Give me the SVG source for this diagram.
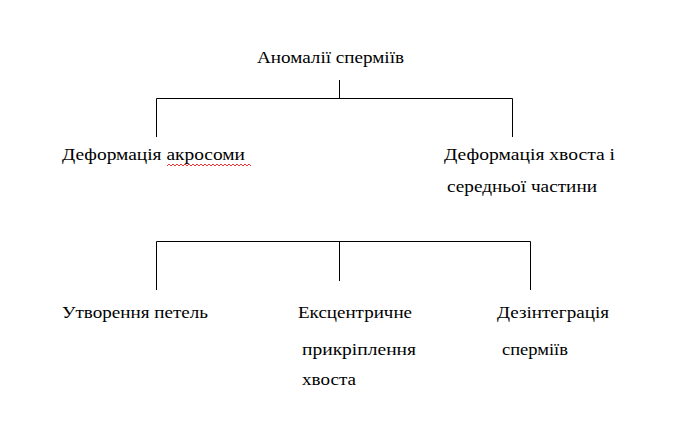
<svg xmlns="http://www.w3.org/2000/svg" width="675" height="421" viewBox="0 0 675 421">
<style>
text{font-family:"Liberation Serif","Times New Roman",serif;font-size:17.5px;fill:#000}
.c{stroke:#000;stroke-width:1;fill:none}
</style>
<rect width="675" height="421" fill="#fff"/>
<g id="connectors">
<path class="c" d="M339.5 80V98.5M156.5 137V98.5H512.5V137"/>
<path class="c" d="M156.5 290V241.5H530.5V290M339.5 241.5V281"/>
</g>
<g id="root"><text x="257" y="63" textLength="147" lengthAdjust="spacingAndGlyphs">Аномалії сперміїв</text></g>
<g id="n-acrosome"><text x="62" y="160" textLength="183" lengthAdjust="spacingAndGlyphs">Деформація акросоми</text>
<path d="M167 166l2-2 2 2 2-2 2 2 2-2 2 2 2-2 2 2 2-2 2 2 2-2 2 2 2-2 2 2 2-2 2 2 2-2 2 2 2-2 2 2 2-2 2 2 2-2 2 2 2-2 2 2 2-2 2 2 2-2 2 2 2-2 2 2 2-2 2 2 2-2 2 2 2-2 2 2 2-2 2 2 2-2 2 2" fill="none" stroke="#d00" stroke-width="0.8"/></g>
<g id="n-tail"><text x="444" y="160" textLength="171" lengthAdjust="spacingAndGlyphs">Деформація хвоста і</text><text x="447" y="192" textLength="150" lengthAdjust="spacingAndGlyphs">середньої частини</text></g>
<g id="n-loops"><text x="62" y="318" textLength="146" lengthAdjust="spacingAndGlyphs">Утворення петель</text></g>
<g id="n-eccentric"><text x="298" y="318" textLength="114" lengthAdjust="spacingAndGlyphs">Ексцентричне</text><text x="302" y="355" textLength="114" lengthAdjust="spacingAndGlyphs">прикріплення</text><text x="302" y="385" textLength="54" lengthAdjust="spacingAndGlyphs">хвоста</text></g>
<g id="n-disint"><text x="497" y="318" textLength="112" lengthAdjust="spacingAndGlyphs">Дезінтеграція</text><text x="502" y="355" textLength="66" lengthAdjust="spacingAndGlyphs">сперміїв</text></g>
</svg>
